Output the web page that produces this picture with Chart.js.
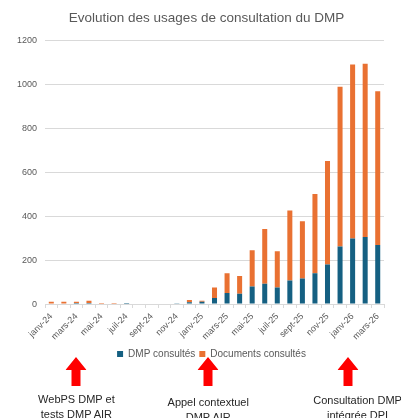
<!DOCTYPE html>
<html>
<head>
<meta charset="utf-8">
<script src="https://cdn.jsdelivr.net/npm/chart.js@4/dist/chart.umd.min.js"></script>
<style>
  html, body { margin: 0; padding: 0; background: #fff; }
  #wrap { position: relative; width: 401px; height: 418px; overflow: hidden; }
  canvas { position: absolute; left: 0; top: 0; }
  .note { position: absolute; font-family: "Liberation Sans", Arial, sans-serif; font-size: 11px;
          line-height: 15px; color: #262626; text-align: center; white-space: nowrap; transform: translateX(-50%); }
  .arrow { position: absolute; top: 357px; transform: translateX(-50%); }
</style>
</head>
<body>
<div id="wrap">
  <canvas id="myChart" width="401" height="418"></canvas>
</div>
<script>
  'use strict'

  // données
  var mois = ['janv-24', 'févr-24', 'mars-24', 'avr-24', 'mai-24', 'juin-24', 'juil-24', 'août-24', 'sept-24',
    'oct-24', 'nov-24', 'déc-24', 'janv-25', 'févr-25', 'mars-25', 'avr-25', 'mai-25', 'juin-25', 'juil-25',
    'août-25', 'sept-25', 'oct-25', 'nov-25', 'déc-25', 'janv-26', 'févr-26', 'mars-26']
  var dmpConsultes = [0, 0, 5, 5, 0, 0, 5, 0, 0, 0, 4, 8, 10, 27, 50, 47, 80, 92, 75, 107, 116, 140, 180, 262, 298, 305, 269]
  var documentsConsultes = [10, 10, 5, 10, 5, 5, 0, 0, 0, 0, 0, 10, 5, 48, 90, 81, 165, 249, 165, 318, 261, 360, 471, 726, 792, 788, 699]
  var yTicks = [0, 200, 400, 600, 800, 1000, 1200]

  // annotations sous le graphique (index de la catégorie visée)
  var notes = [
    { pos: 2, lines: ['WebPS DMP et', 'tests DMP AIR'], dx: 0, top: 392 },
    { pos: 12.5, lines: ['Appel contextuel', 'DMP AIR'], dx: 0, top: 395 },
    { pos: 23.6, lines: ['Consultation DMP', 'intégrée DPI'], dx: 10, top: 393 }
  ]

  var gris = '#595959'
  var police = "'Liberation Sans', Arial, sans-serif"

  // décale titre et légende vers la droite, comme dans Excel
  var decalage = {
    id: 'decalage',
    beforeDraw: function (chart) {
      if (chart.$decale) return
      chart.$decale = true
      chart.titleBlock.left += 10
      chart.titleBlock.right += 10
      chart.legend.left += 15
      chart.legend.right += 15
    }
  }

  var ctx = document.getElementById('myChart')
  var chart = new Chart(ctx, {
    type: 'bar',
    data: {
      labels: mois,
      datasets: [{
        label: 'DMP consultés',
        data: dmpConsultes,
        backgroundColor: '#156082'
      }, {
        label: 'Documents consultés',
        data: documentsConsultes,
        backgroundColor: '#E97132'
      }]
    },
    options: {
      responsive: false,
      animation: false,
      layout: { padding: { left: 9, right: 17, top: 4, bottom: 49 } },
      datasets: { bar: { categoryPercentage: 1, barPercentage: 0.4 } },
      plugins: {
        title: {
          display: true,
          text: 'Evolution des usages de consultation du DMP',
          color: gris,
          font: { family: police, size: 13.5, weight: 'normal' },
          padding: { top: 6, bottom: 14 }
        },
        legend: {
          position: 'bottom',
          labels: {
            color: gris,
            font: { family: police, size: 10 },
            boxWidth: 6,
            boxHeight: 6,
            padding: 4
          }
        },
        tooltip: { enabled: false }
      },
      scales: {
        x: {
          stacked: true,
          grid: { display: true, drawOnChartArea: false, drawTicks: true, tickLength: 4, color: '#d9d9d9' },
          border: { color: '#d9d9d9' },
          ticks: {
            color: gris,
            font: { family: police, size: 9 },
            autoSkip: false,
            maxRotation: 45,
            minRotation: 45,
            callback: function (v, i) { return i % 2 === 0 ? mois[i] : '' }
          }
        },
        y: {
          stacked: true,
          min: 0,
          max: 1200,
          afterBuildTicks: function (axis) { axis.ticks = yTicks.map(function (v) { return { value: v } }) },
          grid: { color: '#d9d9d9', drawTicks: false },
          border: { display: false },
          ticks: {
            color: gris,
            font: { family: police, size: 9 },
            padding: 8,
            callback: function (v) { return String(v) }
          }
        }
      }
    },
    plugins: [decalage]
  })

  // flèches rouges et textes
  var wrap = document.getElementById('wrap')
  notes.forEach(function (n) {
    var x = chart.scales.x.getPixelForValue(n.pos)
    var a = document.createElement('div')
    a.className = 'arrow'
    a.style.left = x + 'px'
    a.innerHTML = '<svg width="21" height="29" viewBox="0 0 21 29"><polygon points="10.5,0 21,13 15,13 15,29 6,29 6,13 0,13" fill="#ff0000"/></svg>'
    wrap.appendChild(a)
    var t = document.createElement('div')
    t.className = 'note'
    t.style.left = (x + n.dx) + 'px'
    t.style.top = n.top + 'px'
    t.innerHTML = n.lines.join('<br>')
    wrap.appendChild(t)
  })
</script>
</body>
</html>
